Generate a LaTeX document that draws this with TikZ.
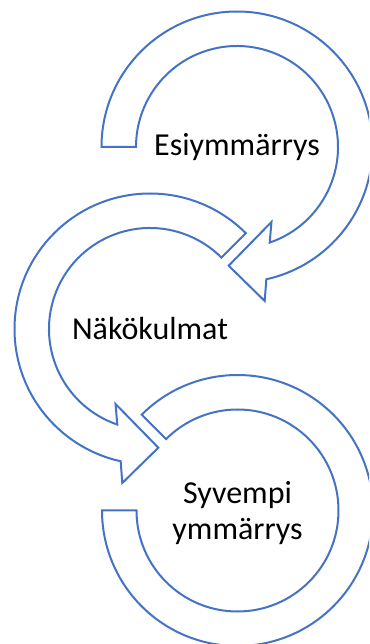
\documentclass[tikz,border=0pt]{standalone}
\usepackage{fontspec}
\setmainfont{Carlito}
\definecolor{ring-blue}{RGB}{68,114,196}

\begin{document}
\begin{tikzpicture}[x=0.75pt, y=0.75pt,
  ring/.style={draw=ring-blue, line width=1.5pt, fill=white, line join=miter},
  phase/.style={font=\fontsize{24}{26.5}\selectfont, align=center, text=black},
]
  \clip (0,0) rectangle (369,644);

  % Centres of the three rings
  \coordinate (c1) at (237,497);
  \coordinate (c2) at (150,315);
  \coordinate (c3) at (237.5,133.5);

  % Ring 1 - clockwise, head at the bottom
  \begin{scope}[shift={(c1)}]
    \draw[ring] (180:135.5) arc[start angle=180, end angle=-77.5, radius=135.5]
      -- (-79.8:156.5) -- (-94:119) -- (-65.3:82.5) -- (-71.1:101)
      arc[start angle=-71.1, end angle=180, radius=101] -- cycle;
  \end{scope}

  % Ring 2 - anticlockwise, head at the bottom
  \begin{scope}[shift={(c2)}]
    \draw[ring] (45:135.5) arc[start angle=45, end angle=257.5, radius=135.5]
      -- (259.8:156.5) -- (274:119) -- (245.3:82.5) -- (251.1:101)
      arc[start angle=251.1, end angle=45, radius=101] -- cycle;
  \end{scope}

  % Ring 3 - open ring, no head
  \begin{scope}[shift={(c3)}]
    \draw[ring] (135:135.5) arc[start angle=135, end angle=-180, radius=135.5]
      -- (-180:101) arc[start angle=-180, end angle=135, radius=101] -- cycle;
  \end{scope}

  % Labels
  \node[phase] (esi) at (c1) {Esiymmärrys};
  \node[phase] (nako) at (c2) {Näkökulmat};
  \node[phase] (syv) at ([yshift=-2]c3) {Syvempi\\ymmärrys};
\end{tikzpicture}
\end{document}
